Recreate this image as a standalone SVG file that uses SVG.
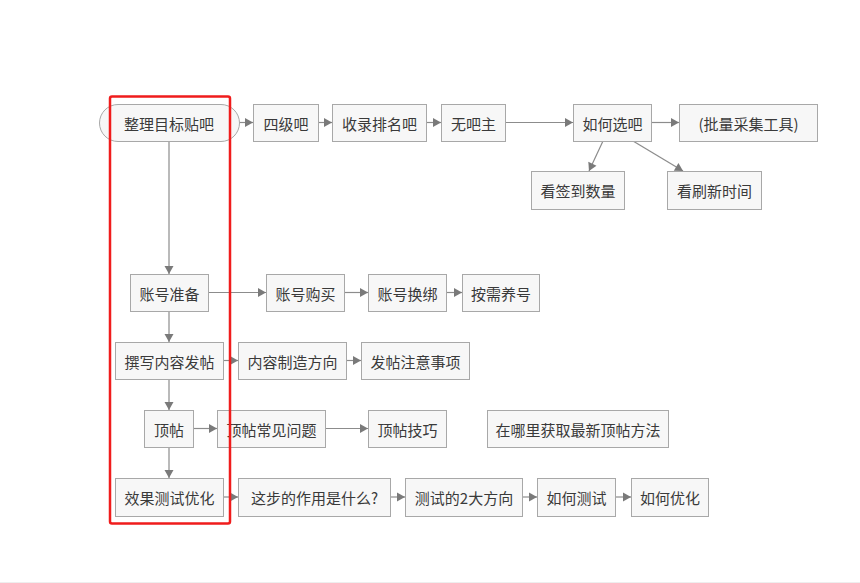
<svg xmlns="http://www.w3.org/2000/svg" width="860" height="583" viewBox="0 0 860 583">
<defs>
<marker id="ah" markerUnits="userSpaceOnUse" markerWidth="10" markerHeight="10" refX="9" refY="5" orient="auto">
<path d="M1,0.5 L9,5 L1,9.5 Z" fill="#7a7a7a"/>
</marker>
<style>
.n rect{fill:#f7f7f7;stroke:#a8a8a8;stroke-width:1}
.n text{font-family:"Noto Sans CJK SC","Noto Sans",sans-serif;font-size:15px;fill:#3a3a3a;text-anchor:middle;dominant-baseline:central}
#edges path{fill:none;stroke:#8c8c8c;stroke-width:1.2;marker-end:url(#ah)}
</style>
</defs>
<rect width="860" height="583" fill="#ffffff"/>
<line x1="0" y1="582.5" x2="860" y2="582.5" stroke="#eeeeee"/>
<g id="edges">
<path d="M239,122.5 H253"/>
<path d="M318,122.5 H332"/>
<path d="M426,122.5 H441"/>
<path d="M505,122.5 H573"/>
<path d="M651,122.5 H679"/>
<path d="M603,141 L589,171"/>
<path d="M633,141 L683,171"/>
<path d="M169,141 V274"/>
<path d="M208,292.5 H266"/>
<path d="M344,292.5 H368"/>
<path d="M446,292.5 H462"/>
<path d="M169,311 V342"/>
<path d="M223,360.5 H238"/>
<path d="M346,360.5 H361"/>
<path d="M169,379 V410"/>
<path d="M193,428.5 H217"/>
<path d="M325,428.5 H368"/>
<path d="M169,447 V478"/>
<path d="M223,497 H238"/>
<path d="M390,497 H405"/>
<path d="M522,497 H537"/>
<path d="M615,497 H631"/>
</g>
<g id="root" class="n"><rect x="99.5" y="104.5" width="140" height="37" rx="18.5"/><text x="169" y="123">整理目标贴吧</text></g>
<g id="n-siji" class="n"><rect x="253.5" y="104.5" width="65" height="37"/><text x="286" y="123">四级吧</text></g>
<g id="n-shoulu" class="n"><rect x="332.5" y="104.5" width="94" height="37"/><text x="379.5" y="123">收录排名吧</text></g>
<g id="n-wubazhu" class="n"><rect x="441.5" y="104.5" width="64" height="37"/><text x="473.5" y="123">无吧主</text></g>
<g id="n-ruhexuan" class="n"><rect x="573.5" y="104.5" width="78" height="37"/><text x="612.5" y="123">如何选吧</text></g>
<g id="n-piliang" class="n"><rect x="679.5" y="104.5" width="138" height="37"/><text x="748.5" y="123">(批量采集工具)</text></g>
<g id="n-qiandao" class="n"><rect x="531.5" y="171.5" width="93" height="38"/><text x="578" y="190.5">看签到数量</text></g>
<g id="n-shuaxin" class="n"><rect x="667.5" y="171.5" width="94" height="38"/><text x="714.5" y="190.5">看刷新时间</text></g>
<g id="n-zhanghao" class="n"><rect x="130.5" y="274.5" width="78" height="37"/><text x="169.5" y="293">账号准备</text></g>
<g id="n-goumai" class="n"><rect x="266.5" y="274.5" width="78" height="37"/><text x="305.5" y="293">账号购买</text></g>
<g id="n-huanbang" class="n"><rect x="368.5" y="274.5" width="78" height="37"/><text x="407.5" y="293">账号换绑</text></g>
<g id="n-yanghao" class="n"><rect x="462.5" y="274.5" width="77" height="37"/><text x="501" y="293">按需养号</text></g>
<g id="n-zhuanxie" class="n"><rect x="115.5" y="342.5" width="108" height="37"/><text x="169.5" y="361">撰写内容发帖</text></g>
<g id="n-neirong" class="n"><rect x="238.5" y="342.5" width="108" height="37"/><text x="292.5" y="361">内容制造方向</text></g>
<g id="n-zhuyi" class="n"><rect x="361.5" y="342.5" width="108" height="37"/><text x="415.5" y="361">发帖注意事项</text></g>
<g id="n-dingtie" class="n"><rect x="144.5" y="410.5" width="49" height="37"/><text x="169" y="429">顶帖</text></g>
<g id="n-changjian" class="n"><rect x="217.5" y="410.5" width="108" height="37"/><text x="271.5" y="429">顶帖常见问题</text></g>
<g id="n-jiqiao" class="n"><rect x="368.5" y="410.5" width="78" height="37"/><text x="407.5" y="429">顶帖技巧</text></g>
<g id="n-zuixin" class="n"><rect x="487.5" y="410.5" width="181" height="37"/><text x="578" y="429">在哪里获取最新顶帖方法</text></g>
<g id="n-xiaoguo" class="n"><rect x="115.5" y="478.5" width="108" height="38"/><text x="169.5" y="497.5">效果测试优化</text></g>
<g id="n-zuoyong" class="n"><rect x="238.5" y="478.5" width="152" height="38"/><text x="314.5" y="497.5">这步的作用是什么?</text></g>
<g id="n-fangxiang" class="n"><rect x="405.5" y="478.5" width="117" height="38"/><text x="464" y="497.5">测试的2大方向</text></g>
<g id="n-ceshi" class="n"><rect x="537.5" y="478.5" width="78" height="38"/><text x="576.5" y="497.5">如何测试</text></g>
<g id="n-youhua" class="n"><rect x="631.5" y="478.5" width="77" height="38"/><text x="670" y="497.5">如何优化</text></g>
<rect id="highlight" x="110" y="96.5" width="120" height="427" rx="2" fill="none" stroke="#f01c1c" stroke-width="2.5"/>
</svg>
